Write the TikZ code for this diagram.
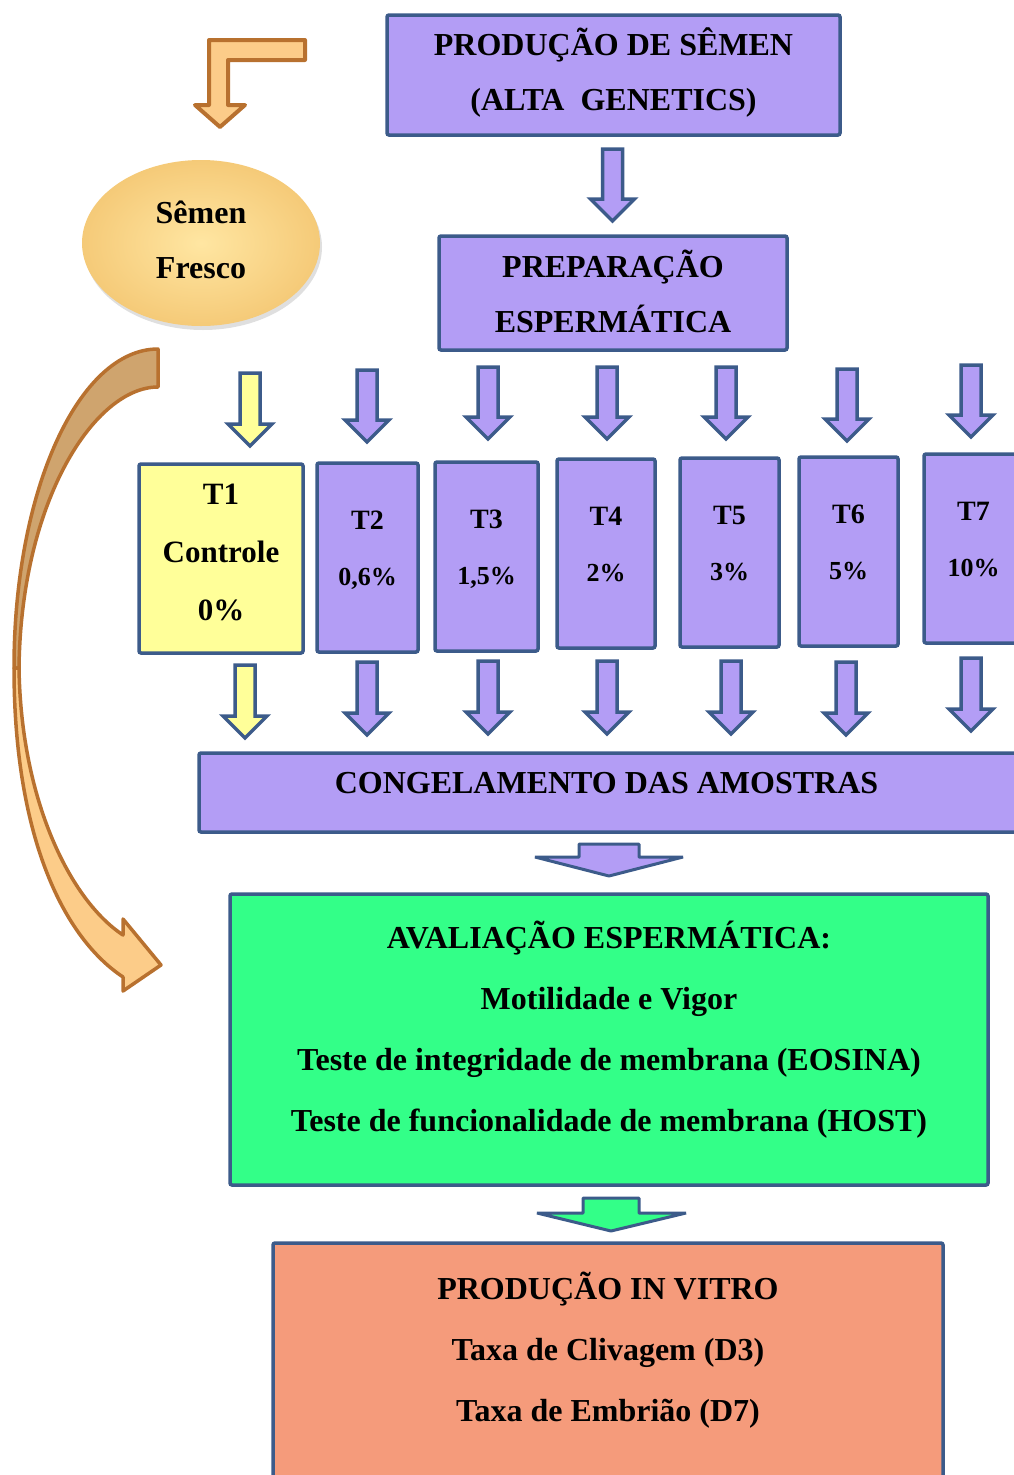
\documentclass[tikz,border=0pt]{standalone}
\usepackage{fontspec}
\setmainfont{Liberation Serif}
\usetikzlibrary{shadows,shapes.geometric}

\definecolor{lilas}{HTML}{B39DF5}
\definecolor{borda}{HTML}{3C5B8A}
\definecolor{amarelo}{HTML}{FFFF99}
\definecolor{verde}{HTML}{33FF88}
\definecolor{salmao}{HTML}{F59B7B}
\definecolor{laranja}{HTML}{FCCC89}
\definecolor{marrom}{HTML}{B8712F}
\definecolor{bege}{HTML}{CFA46E}
\definecolor{semin}{HTML}{FFE6A2}
\definecolor{semout}{HTML}{F5CA78}

% seta de bloco para baixo: x, y do topo, y da ponta, cor
\newcommand{\setabaixo}[4]{%
  \draw[block arrow,fill=#4] ({#1-10},#2) -- ({#1+10},#2) -- ({#1+10},{#3-22})
    -- ({#1+22},{#3-22}) -- (#1,#3) -- ({#1-22},{#3-22}) -- ({#1-10},{#3-22}) -- cycle;}
\newcommand{\pct}[1]{{\fontsize{26}{56}\selectfont #1}}

\begin{document}
\begin{tikzpicture}[x=1pt,y=-1pt,
    box node/.style={draw=borda,line width=3.5pt,rounded corners=2pt,inner sep=0pt},
    rotulo/.style={align=center,inner sep=0pt,font=\fontsize{32}{55}\selectfont\bfseries},
    t node/.style={box node,fill=lilas,minimum width=99pt,minimum height=189pt},
    t text/.style={rotulo,font=\fontsize{28}{56}\selectfont\bfseries},
    block arrow/.style={draw=borda,line width=3.5pt,line join=miter},
    orange arrow/.style={draw=marrom,line width=3.5pt,line join=round}]
  \useasboundingbox (0,0) rectangle (1014,1475);
  \clip (0,0) rectangle (1014,1475);

  \node[box node,fill=lilas,minimum width=453pt,minimum height=120pt] (producao) at (613.5,75) {};
  \node[rotulo] (producao texto) at ([yshift=2pt]producao.center)
    {PRODUÇÃO DE SÊMEN\\(ALTA\ \ GENETICS)};
  \node[box node,fill=lilas,minimum width=348pt,minimum height=114pt] (preparacao) at (613,293) {};
  \node[rotulo] (preparacao texto) at ([yshift=2pt]preparacao.center) {PREPARAÇÃO\\ESPERMÁTICA};

  \node[ellipse,minimum width=238pt,minimum height=166pt,inner color=semin,outer color=semout,
    drop shadow={opacity=0.25,shadow xshift=2pt,shadow yshift=-4pt}] (semen) at (201,243) {};
  \node[rotulo] (semen texto) at ([yshift=3pt]semen.center) {Sêmen\\Fresco};

  \node[t node,fill=amarelo,minimum width=164pt] (t1) at (221,558.5) {};
  \node[rotulo,font=\fontsize{31}{58}\selectfont\bfseries] (t1 texto) at ([yshift=6pt]t1.center)
    {T1\\Controle\\0\%};
  \node[t node,minimum width=101pt] (t2) at (367.5,557.5) {};
  \node[t text] (t2 texto) at ([yshift=7pt]t2.center) {T2\\\pct{0,6\%}};
  \node[t node,minimum width=103pt] (t3) at (486.5,556.5) {};
  \node[t text] (t3 texto) at ([yshift=7pt]t3.center) {T3\\\pct{1,5\%}};
  \node[t node,minimum width=98pt] (t4) at (606,553.5) {};
  \node[t text] (t4 texto) at ([yshift=9pt]t4.center) {T4\\\pct{2\%}};
  \node[t node] (t5) at (729.5,552.5) {};
  \node[t text] (t5 texto) at ([yshift=9pt]t5.center) {T5\\\pct{3\%}};
  \node[t node] (t6) at (848.5,551.5) {};
  \node[t text] (t6 texto) at ([yshift=9pt]t6.center) {T6\\\pct{5\%}};
  \node[t node] (t7) at (973.5,548.5) {};
  \node[t text] (t7 texto) at ([yshift=9pt]t7.center) {T7\\\pct{10\%}};

  \node[box node,fill=lilas,minimum width=819pt,minimum height=79pt] (congelamento)
    at (608.5,792.5) {};
  \node[rotulo] (congelamento texto) at ([shift={(-2pt,9pt)}]congelamento.center)
    {CONGELAMENTO DAS AMOSTRAS};
  \node[box node,fill=verde,minimum width=758pt,minimum height=291pt] (avaliacao)
    at (609,1039.5) {};
  \node[rotulo,font=\fontsize{32}{61}\selectfont\bfseries] (avaliacao texto)
    at ([yshift=9.5pt]avaliacao.center)
    {AVALIAÇÃO ESPERMÁTICA:\\Motilidade e Vigor\\Teste de integridade de membrana (EOSINA)\\
     Teste de funcionalidade de membrana (HOST)};
  \node[box node,fill=salmao,minimum width=670pt,minimum height=235pt] (invitro)
    at (608,1360.5) {};
  \node[rotulo,font=\fontsize{32}{61}\selectfont\bfseries] (invitro texto)
    at ([yshift=10pt]invitro.center)
    {PRODUÇÃO IN VITRO\\Taxa de Clivagem (D3)\\Taxa de Embrião (D7)};

  % setas entre as caixas
  \setabaixo{612.5}{149}{221}{lilas}
  \setabaixo{250}{373}{446}{amarelo}
  \setabaixo{367}{370}{442}{lilas}
  \setabaixo{488}{367}{439}{lilas}
  \setabaixo{607}{367}{439}{lilas}
  \setabaixo{726}{367}{439}{lilas}
  \setabaixo{847}{369}{441}{lilas}
  \setabaixo{971}{365}{437}{lilas}
  \setabaixo{245}{665}{738}{amarelo}
  \setabaixo{367}{662}{735}{lilas}
  \setabaixo{488}{661}{734}{lilas}
  \setabaixo{607}{661}{734}{lilas}
  \setabaixo{731}{661}{734}{lilas}
  \setabaixo{846}{662}{735}{lilas}
  \setabaixo{971}{658}{731}{lilas}
  \draw[block arrow,line width=3pt,line join=bevel,fill=lilas] (579,844) -- (639,844) -- (639,857)
    -- (683,857) -- (609,876) -- (535,857) -- (579,857) -- cycle;
  \draw[block arrow,line width=3pt,line join=bevel,fill=verde] (583,1198) -- (639,1198) -- (639,1213)
    -- (686,1213) -- (611,1231) -- (537,1213) -- (583,1213) -- cycle;

  % setas laranja
  \draw[orange arrow,line width=4pt,fill=laranja] (305,40) -- (305,60) -- (228,60) -- (228,105)
    -- (245,105) -- (220,127) -- (195,105) -- (209,105) -- (209,40) -- cycle;
  \draw[orange arrow,fill=bege] (158,349) .. controls (79,349) and (14,490) .. (14,668)
    -- (19,668) .. controls (21,500) and (95,387) .. (158,387) -- cycle;
  \draw[orange arrow,fill=laranja] (14,668) .. controls (14,830) and (60,935) .. (123,977)
    -- (123,991) -- (161,965) -- (123,919) -- (123,935)
    .. controls (70,900) and (21,800) .. (19,668) -- cycle;
\end{tikzpicture}
\end{document}
